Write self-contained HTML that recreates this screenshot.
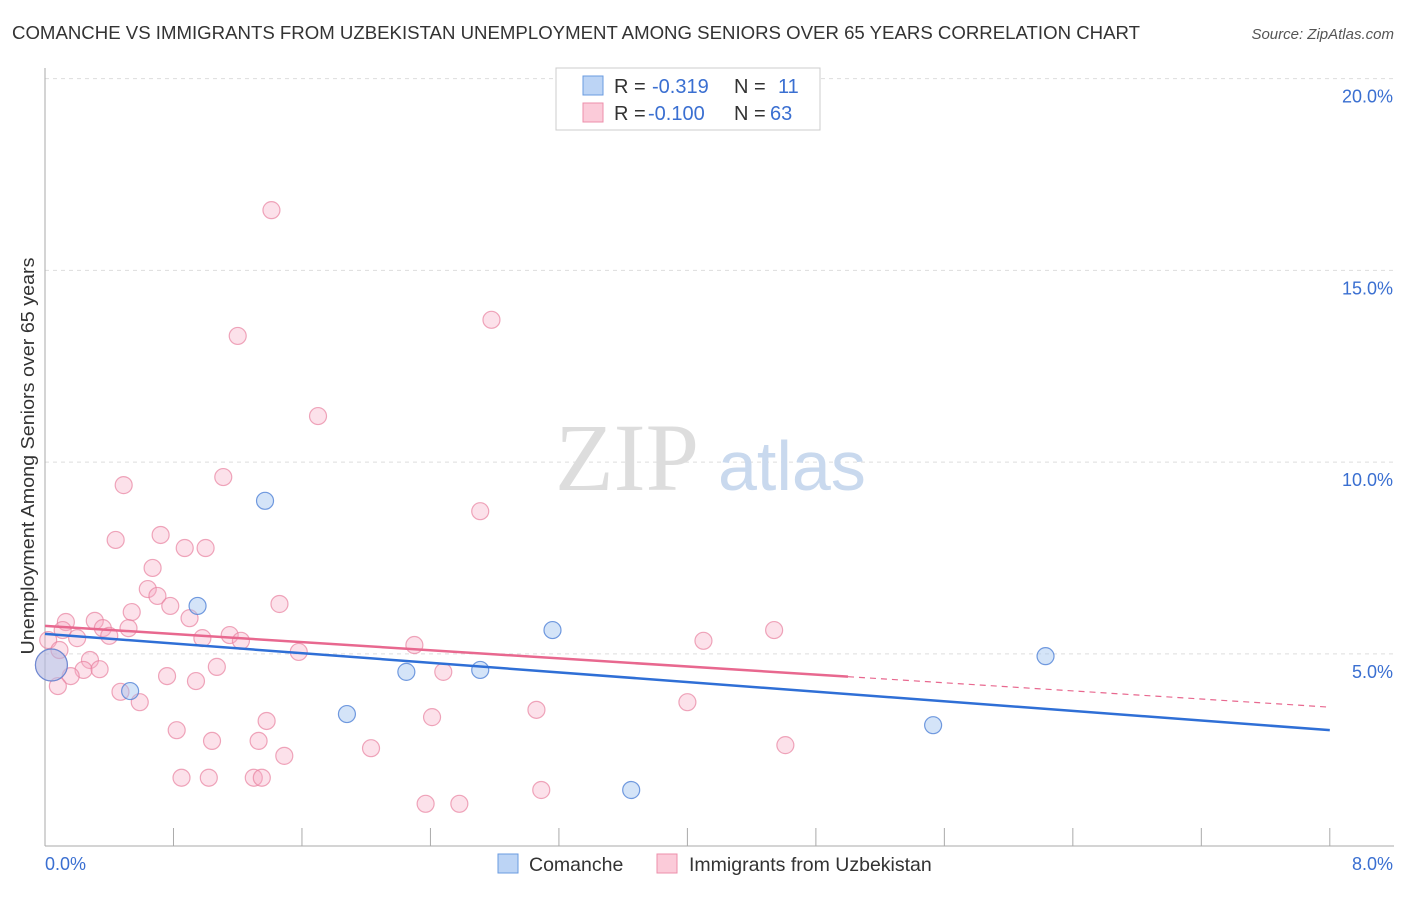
<!DOCTYPE html>
<html><head><meta charset="utf-8"><style>
body{margin:0;background:#fff;font-family:"Liberation Sans",sans-serif}
svg text{font-family:"Liberation Sans",sans-serif}
</style></head><body>
<svg id="c" width="1406" height="892">
<text x="12" y="39" font-size="18.5" fill="#333" textLength="1128" lengthAdjust="spacingAndGlyphs">COMANCHE VS IMMIGRANTS FROM UZBEKISTAN UNEMPLOYMENT AMONG SENIORS OVER 65 YEARS CORRELATION CHART</text>
<text x="1394" y="39" font-size="15" fill="#555" font-style="italic" text-anchor="end">Source: ZipAtlas.com</text>
<text x="34" y="456" font-size="18.5" fill="#333" text-anchor="middle" textLength="397" lengthAdjust="spacingAndGlyphs" transform="rotate(-90 34 456)">Unemployment Among Seniors over 65 years</text>
<g id="grid"></g>
<text x="555" y="490" font-size="96" fill="#ddd" style="font-family:'Liberation Serif',serif">ZIP</text>
<text x="718" y="490" font-size="70" fill="#c9d9ee">atlas</text>
<g id="pts"></g>
<g id="lines"></g>
<g>
<rect x="556" y="68" width="264" height="62" fill="#fff" stroke="#ccc"/>
<rect x="583" y="76" width="20" height="19" fill="#bcd4f5" stroke="#6a9be0"/>
<rect x="583" y="103" width="20" height="19" fill="#fbcbd9" stroke="#ec8fab"/>
<text x="614" y="93" font-size="20" fill="#333">R = </text><text x="652" y="93" font-size="20" fill="#3a6fd1">-0.319</text>
<text x="734" y="93" font-size="20" fill="#333">N = </text><text x="778" y="93" font-size="20" fill="#3a6fd1">11</text>
<text x="614" y="120" font-size="20" fill="#333">R = </text><text x="648" y="120" font-size="20" fill="#3a6fd1">-0.100</text>
<text x="734" y="120" font-size="20" fill="#333">N = </text><text x="770" y="120" font-size="20" fill="#3a6fd1">63</text>
</g>
<g>
<rect x="498" y="854" width="20" height="19" fill="#bcd4f5" stroke="#6a9be0"/>
<text x="529" y="871" font-size="19.5" fill="#333">Comanche</text>
<rect x="657" y="854" width="20" height="19" fill="#fbcbd9" stroke="#ec8fab"/>
<text x="689" y="871" font-size="19.5" fill="#333">Immigrants from Uzbekistan</text>
</g>
</svg>
<script>
const xTicks=[0,0.8,1.6,2.4,3.2,4.0,4.8,5.6,6.4,7.2,8.0];
const yTicks=[5,10,15,20];
const yTickLabels=["5.0%","10.0%","15.0%","20.0%"];
const xEndLabels=["0.0%","8.0%"];
const pinkX=[1.41,2.78,1.20,1.70,1.11,0.49,2.71,0.44,0.72,0.87,1.00,0.67,0.64,0.70,0.78,0.54,1.46,0.90,0.31,0.13,0.36,0.52,0.11,0.02,0.40,0.20,0.98,1.15,1.22,2.30,4.10,4.54,1.58,0.28,0.24,0.34,0.16,1.07,0.76,2.48,0.08,0.94,0.47,0.59,4.00,1.38,2.41,3.06,0.82,1.04,1.33,2.03,1.49,4.61,0.85,1.02,1.30,1.35,3.09,2.37,2.58,0.04,0.09];
const pinkY=[16.57,13.71,13.29,11.20,9.61,9.40,8.72,7.97,8.10,7.76,7.76,7.24,6.69,6.51,6.25,6.09,6.30,5.93,5.86,5.83,5.67,5.67,5.62,5.36,5.47,5.41,5.41,5.49,5.34,5.23,5.34,5.62,5.05,4.84,4.58,4.60,4.42,4.66,4.42,4.53,4.16,4.29,4.01,3.74,3.74,3.25,3.35,3.54,3.01,2.73,2.73,2.54,2.34,2.62,1.77,1.77,1.77,1.77,1.45,1.09,1.09,4.71,5.10];
const blueX=[0.04,1.37,0.95,0.53,1.88,2.25,2.71,3.16,3.65,5.53,6.23];
const blueY=[4.71,8.99,6.25,4.03,3.43,4.53,4.58,5.62,1.45,3.14,4.94];
const blueTrend=[5.52,3.01];
const pinkTrend=[5.73,3.61];
const pinkSolidEnd=5.0;
const X=v=>45+v*160.6, Y=v=>845.6-v*38.35;
const NS="http://www.w3.org/2000/svg";
function mk(tag,attrs,parent){const e=document.createElementNS(NS,tag);for(const k in attrs)e.setAttribute(k,attrs[k]);parent.appendChild(e);return e;}
const grid=document.getElementById('grid');
yTicks.forEach((t,i)=>{
 const l=mk('line',{x1:45,x2:1394,y1:Y(t),y2:Y(t),stroke:'#ddd','stroke-dasharray':'4 4'},grid);
 
 
 const tx=mk('text',{x:1393,y:Y(t)+24,'font-size':18,fill:'#3a6fd1','text-anchor':'end'},grid);
 tx.textContent=yTickLabels[i];
 
 
});
const ax=mk('line',{x1:45,x2:45,y1:68,y2:846,stroke:'#aaa'},grid);


const bx=mk('line',{x1:45,x2:1394,y1:846,y2:846,stroke:'#aaa'},grid);


xTicks.forEach(t=>{
 const l=mk('line',{x1:X(t),x2:X(t),y1:828,y2:846,stroke:'#aaa'},grid);
 
 
});
const xl0=mk('text',{x:45,y:870,'font-size':18,fill:'#3a6fd1'},grid);xl0.textContent=xEndLabels[0];


const xl1=mk('text',{x:1393,y:870,'font-size':18,fill:'#3a6fd1','text-anchor':'end'},grid);xl1.textContent=xEndLabels[1];


const pts=document.getElementById('pts');
pinkX.forEach((x,i)=>{
 const big=(i===pinkX.length-2);
 const c=mk('circle',{cx:X(x),cy:Y(pinkY[i]),r:big?16:8.5,fill:'rgba(247,170,195,0.35)',stroke:'rgba(232,130,160,0.7)','stroke-width':1.2},pts);
 
 
});
blueX.forEach((x,i)=>{
 const c=mk('circle',{cx:X(x),cy:Y(blueY[i]),r:i===0?16:8.5,fill:'rgba(160,195,240,0.45)',stroke:'rgba(80,130,215,0.8)','stroke-width':1.2},pts);
 
 
});
const lines=document.getElementById('lines');
const bl=mk('line',{x1:X(0),y1:Y(blueTrend[0]),x2:X(8),y2:Y(blueTrend[1]),stroke:'#2f6fd6','stroke-width':2.5},lines);


const pAt=v=>pinkTrend[0]+(pinkTrend[1]-pinkTrend[0])*v/8;
const pl=mk('line',{x1:X(0),y1:Y(pinkTrend[0]),x2:X(pinkSolidEnd),y2:Y(pAt(pinkSolidEnd)),stroke:'#e8688f','stroke-width':2.5},lines);


const pd=mk('line',{x1:X(pinkSolidEnd),y1:Y(pAt(pinkSolidEnd)),x2:X(8),y2:Y(pinkTrend[1]),stroke:'#e8688f','stroke-width':1.2,'stroke-dasharray':'6 5'},lines);


</script>
</body></html>
